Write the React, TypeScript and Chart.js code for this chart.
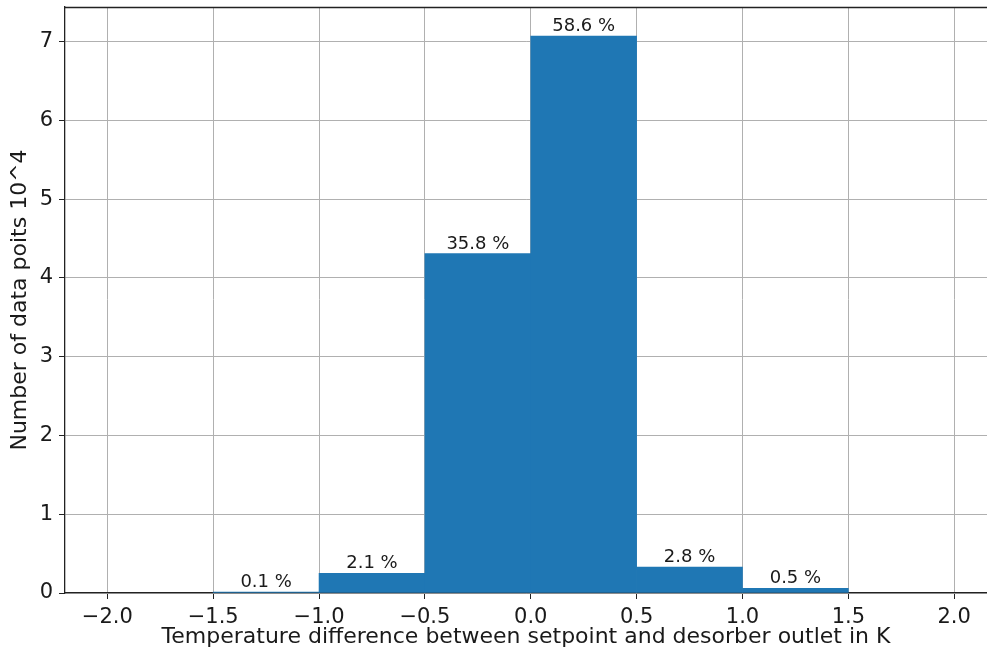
import React, { useEffect, useRef } from "react";
import { Chart, registerables } from "chart.js";

Chart.register(...registerables);

const binCenters = [-1.25, -0.75, -0.25, 0.25, 0.75, 1.25];
const counts = [0.012, 0.25, 4.31, 7.07, 0.33, 0.06];
const percentLabels = ["0.1 %", "2.1 %", "35.8 %", "58.6 %", "2.8 %", "0.5 %"];
const xTickValues = [-2.0, -1.5, -1.0, -0.5, 0.0, 0.5, 1.0, 1.5, 2.0];
const xTickLabels = ["\u22122.0", "\u22121.5", "\u22121.0", "\u22120.5", "0.0", "0.5", "1.0", "1.5", "2.0"];
const yTickValues = [0, 1, 2, 3, 4, 5, 6, 7];
const yTickLabels = ["0", "1", "2", "3", "4", "5", "6", "7"];
const xTitle = "Temperature difference between setpoint and desorber outlet in K";
const yTitle = "Number of data poits 10^4";

const FONT = "'DejaVu Sans', sans-serif";
const TEXT = "#1a1a1a";

export default function App() {
  const ref = useRef<HTMLCanvasElement | null>(null);

  useEffect(() => {
    if (!ref.current) return;
    const labelPlugin = {
      id: "barLabels",
      afterDraw(chart: any) {
        const ctx = chart.ctx;
        const meta = chart.getDatasetMeta(0);
        ctx.save();
        ctx.font = `18px ${FONT}`;
        ctx.fillStyle = TEXT;
        ctx.textAlign = "center";
        ctx.textBaseline = "alphabetic";
        meta.data.forEach((bar: any, i: number) => {
          ctx.fillText(percentLabels[i], bar.x, bar.y - 5);
        });
        const a = chart.chartArea;
        ctx.strokeStyle = "#222";
        ctx.lineWidth = 1.3;
        ctx.beginPath();
        ctx.moveTo(a.left, a.top + 0.5);
        ctx.lineTo(a.right, a.top + 0.5);
        ctx.stroke();
        ctx.restore();
      },
    };

    const chart = new Chart(ref.current, {
      type: "bar",
      data: {
        datasets: [
          {
            data: binCenters.map((x, i) => ({ x, y: counts[i] })),
            backgroundColor: "#1f77b4",
            borderWidth: 0,
            barPercentage: 1,
            categoryPercentage: 1,
          },
        ],
      },
      options: {
        responsive: false,
        animation: false,
        layout: { padding: { top: 7, right: 0, left: 0, bottom: 0 } },
        plugins: { legend: { display: false }, tooltip: { enabled: false } },
        scales: {
          x: {
            type: "linear",
            min: -2.2,
            max: 2.155,
            offset: false,
            z: 1,
            afterBuildTicks: (s: any) => {
              s.ticks = xTickValues.map((v) => ({ value: v }));
            },
            afterFit: (s: any) => {
              s.height = 59;
              s.paddingLeft = 0;
              s.paddingRight = 0;
              s.paddingTop = 0;
              s.paddingBottom = 0;
            },
            grid: {
              offset: false,
              color: "#b0b0b0",
              lineWidth: 1,
              tickColor: "#222",
              tickLength: 6,
            },
            border: { color: "#222", width: 1.3 },
            ticks: {
              padding: 6,
              color: TEXT,
              font: { family: FONT, size: 21 },
              maxRotation: 0,
              autoSkip: false,
              callback: (v: any) => {
                const i = xTickValues.findIndex((t) => Math.abs(t - Number(v)) < 1e-9);
                return i >= 0 ? xTickLabels[i] : "";
              },
            },
            title: {
              display: true,
              text: xTitle,
              color: TEXT,
              font: { family: FONT, size: 22 },
              padding: { top: 0, bottom: 2 },
            },
          },
          y: {
            min: 0,
            max: 7.44,
            z: 1,
            afterBuildTicks: (s: any) => {
              s.ticks = yTickValues.map((v) => ({ value: v }));
            },
            afterFit: (s: any) => {
              s.width = 65;
              s.paddingLeft = 0;
              s.paddingRight = 0;
              s.paddingTop = 0;
              s.paddingBottom = 0;
            },
            grid: {
              color: "#b0b0b0",
              lineWidth: 1,
              tickColor: "#222",
              tickLength: 6,
            },
            border: { color: "#222", width: 1.3 },
            ticks: {
              padding: 6,
              color: TEXT,
              font: { family: FONT, size: 21 },
              autoSkip: false,
              callback: (v: any) => {
                const i = yTickValues.findIndex((t) => Math.abs(t - Number(v)) < 1e-9);
                return i >= 0 ? yTickLabels[i] : "";
              },
            },
            title: {
              display: true,
              text: yTitle,
              color: TEXT,
              font: { family: FONT, size: 22 },
              padding: { top: 7, bottom: 0 },
            },
          },
        },
      } as any,
      plugins: [labelPlugin],
    });
    return () => chart.destroy();
  }, []);

  return (
    <div style={{ position: "fixed", left: 0, top: 0, width: 987, height: 652, background: "#fff" }}>
      <canvas ref={ref} width={987} height={652} style={{ display: "block" }} />
    </div>
  );
}
